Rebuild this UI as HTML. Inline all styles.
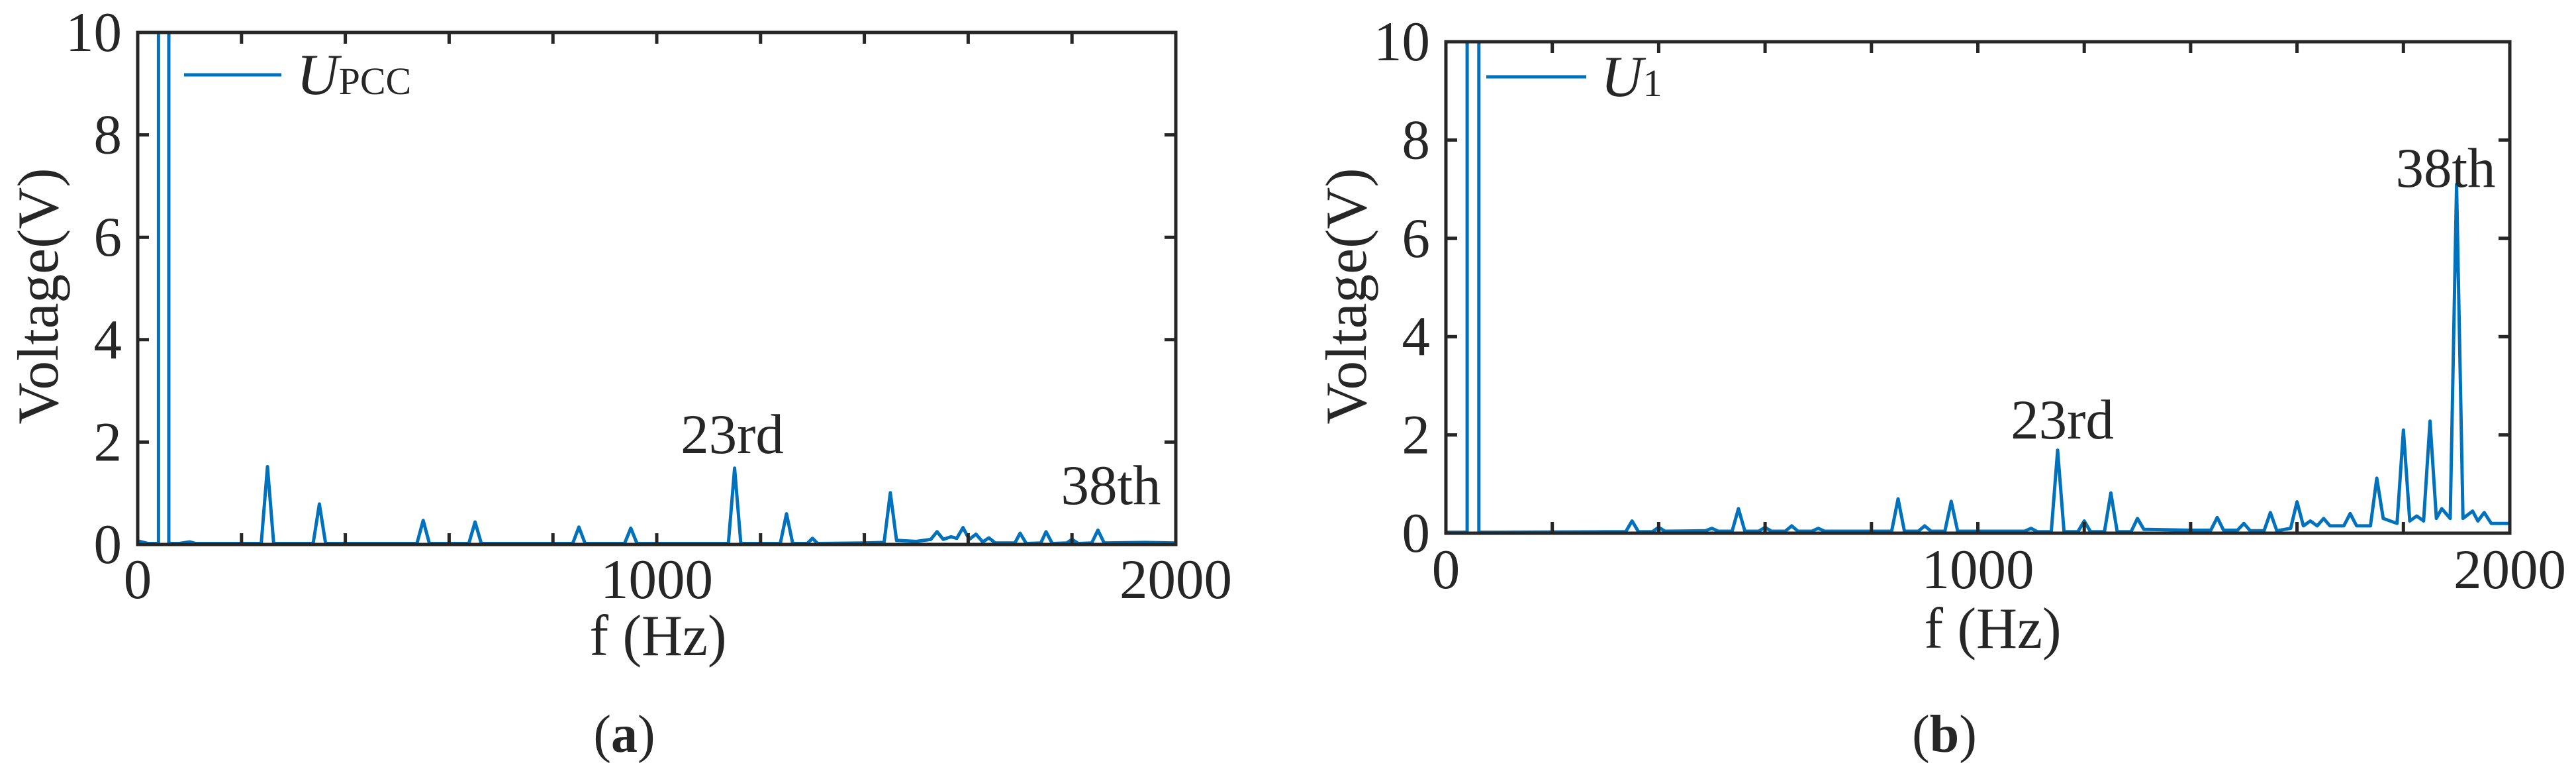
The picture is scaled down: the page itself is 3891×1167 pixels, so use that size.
<!DOCTYPE html>
<html><head><meta charset="utf-8"><style>
html,body{margin:0;padding:0;background:#fff;}
svg{display:block;}
text{font-family:"Liberation Serif",serif;fill:#262626;}
</style></head><body>
<svg id="fig" width="3891" height="1167" viewBox="0 0 3891 1167" xmlns="http://www.w3.org/2000/svg"></svg>
<script>
// Panel (a): U_PCC spectrum
const freqA = [0,20,40,40,60,60,80,100,112,238,250,262,338,350,362,538,550,562,638,650,662,838,850,862,938,950,962,1138,1150,1162,1238,1250,1262,1290,1300,1310,1400,1438,1450,1462,1500,1528,1540,1552,1567,1578,1590,1602,1615,1628,1640,1652,1690,1700,1712,1740,1750,1762,1790,1800,1812,1838,1850,1862,1940,2000];
const voltA = [0.07,0.02,0.02,12,12,0.02,0.02,0.05,0.02,0.02,1.52,0.02,0.02,0.79,0.02,0.02,0.47,0.02,0.02,0.44,0.02,0.02,0.34,0.02,0.02,0.32,0.02,0.02,1.49,0.02,0.02,0.6,0.02,0.02,0.12,0.02,0.03,0.04,1.01,0.08,0.06,0.1,0.25,0.1,0.15,0.12,0.33,0.1,0.2,0.05,0.13,0.03,0.03,0.22,0.02,0.03,0.25,0.02,0.03,0.1,0.02,0.03,0.28,0.03,0.04,0.03];
// Panel (b): U_1 spectrum
const freqB = [0,20,40,40,62,62,100,300,338,350,362,388,400,412,488,500,512,538,550,562,588,600,612,638,650,662,688,700,712,838,850,862,888,900,912,938,950,962,1088,1100,1112,1138,1150,1162,1188,1200,1212,1238,1250,1262,1288,1300,1312,1400,1438,1450,1462,1488,1500,1512,1538,1550,1562,1588,1600,1612,1625,1638,1650,1662,1688,1700,1712,1738,1750,1762,1788,1800,1812,1825,1838,1850,1862,1872,1888,1900,1912,1930,1940,1952,1965,2000];
const voltB = [0.02,0.02,0.02,12,12,0.02,0.02,0.03,0.03,0.25,0.03,0.03,0.12,0.04,0.05,0.1,0.04,0.04,0.5,0.04,0.04,0.12,0.04,0.04,0.15,0.04,0.04,0.1,0.04,0.04,0.7,0.04,0.04,0.15,0.04,0.04,0.65,0.04,0.04,0.1,0.03,0.03,1.69,0.03,0.03,0.25,0.03,0.03,0.82,0.03,0.03,0.3,0.08,0.06,0.06,0.32,0.06,0.06,0.2,0.05,0.05,0.42,0.05,0.1,0.64,0.15,0.25,0.15,0.3,0.15,0.15,0.4,0.15,0.15,1.12,0.3,0.2,2.1,0.25,0.35,0.25,2.28,0.3,0.5,0.3,7.1,0.3,0.45,0.25,0.42,0.2,0.2];
const xTicks = [0,200,400,600,800,1000,1200,1400,1600,1800,2000];
const xTickLabels = ["0","1000","2000"];
const xLabelVals = [0,1000,2000];
const yTicks = [0,2,4,6,8,10];
const yTickLabels = ["0","2","4","6","8","10"];

const NS="http://www.w3.org/2000/svg";
const svg=document.getElementById('fig');
function mk(tag,attrs,parent){const e=document.createElementNS(NS,tag);for(const k in attrs)e.setAttribute(k,attrs[k]);(parent||svg).appendChild(e);return e;}

function panel(p){
  const g=mk('g',{});
  
  
  const sx=f=>p.x0+(f/2000)*(p.x1-p.x0);
  const sy=v=>p.y1-(v/10)*(p.y1-p.y0);
  const clipId='clip-'+p.id;
  const cp=mk('clipPath',{id:clipId},g);
  mk('rect',{x:p.x0,y:p.y0,width:p.x1-p.x0,height:p.y1-p.y0},cp);
  let d='';
  p.f.forEach((f,i)=>{d+=(i?'L':'M')+sx(f).toFixed(1)+' '+sy(p.v[i]).toFixed(1);});
  const line=mk('path',{d:d,fill:'none',stroke:'#0072BD','stroke-width':5,'stroke-linejoin':'round','clip-path':'url(#'+clipId+')'},g);
  
  
  const box=mk('rect',{x:p.x0,y:p.y0,width:p.x1-p.x0,height:p.y1-p.y0,fill:'none',stroke:'#262626','stroke-width':5},g);
  
  
  xTicks.forEach(t=>{
    const x=sx(t);
    const tk=mk('path',{d:`M${x} ${p.y1}V${p.y1-17}M${x} ${p.y0}V${p.y0+17}`,stroke:'#262626','stroke-width':5},g);
    
    
  });
  yTicks.forEach(t=>{
    const y=sy(t);
    const tk=mk('path',{d:`M${p.x0} ${y}H${p.x0+17}M${p.x1} ${y}H${p.x1-17}`,stroke:'#262626','stroke-width':5},g);
    
    
  });
  xLabelVals.forEach((t,i)=>{
    const tx=mk('text',{x:sx(t),y:p.xlBase,'font-size':85,'text-anchor':'middle'},g);
    tx.textContent=xTickLabels[i];
    
    
  });
  yTicks.forEach((t,i)=>{
    const tx=mk('text',{x:p.x0-24,y:sy(t)+28,'font-size':85,'text-anchor':'end'},g);
    tx.textContent=yTickLabels[i];
    
    
  });
  const xt=mk('text',{x:p.xtX,y:p.xtY,'font-size':88,'text-anchor':'middle',textLength:207,lengthAdjust:'spacingAndGlyphs'},g);
  xt.textContent='f (Hz)';
  
  
  const yt=mk('text',{x:0,y:0,'font-size':88,'text-anchor':'middle',textLength:387,lengthAdjust:'spacingAndGlyphs',transform:`translate(${p.ytX},${p.ytY}) rotate(-90)`},g);
  yt.textContent='Voltage(V)';
  
  
  const lg=mk('g',{},g);
  
  
  mk('line',{x1:p.lgX0,x2:p.lgX1,y1:p.lgY,y2:p.lgY,stroke:'#0072BD','stroke-width':5},lg);
  const lt=mk('text',{x:p.lgTX,y:p.lgTY,'font-size':88},lg);
  const t1=mk('tspan',{'font-style':'italic'},lt);t1.textContent='U';
  const t2=mk('tspan',{'font-size':58},lt);t2.textContent=p.sub;
  p.ann.forEach(a=>{
    const tx=mk('text',{x:a[1],y:a[2],'font-size':85,'text-anchor':'middle'},g);
    tx.textContent=a[0];
    
    
  });
  const cap=mk('text',{x:p.capX,y:1135,'font-size':80,'text-anchor':'middle'},g);
  const c1=mk('tspan',{},cap);c1.textContent='(';
  const c2=mk('tspan',{'font-weight':'bold'},cap);c2.textContent=p.cap;
  const c3=mk('tspan',{},cap);c3.textContent=')';
  
  
}

panel({id:'panel-a',x0:208,x1:1776,y0:49,y1:822,f:freqA,v:voltA,xlBase:903,xtX:994,xtY:989,ytX:87,ytY:447,
  lgX0:278,lgX1:425,lgY:113,lgTX:448,lgTY:142,sub:'PCC',ann:[['23rd',1106,684],['38th',1678,761]],capX:943,cap:'a'});
panel({id:'panel-b',x0:2184,x1:3791,y0:63,y1:805,f:freqB,v:voltB,xlBase:888,xtX:3010,xtY:978,ytX:2063,ytY:447,
  lgX0:2245,lgX1:2396,lgY:116,lgTX:2418,lgTY:145,sub:'1',ann:[['23rd',3115,662],['38th',3694,282]],capX:2937,cap:'b'});
</script>
</body></html>
